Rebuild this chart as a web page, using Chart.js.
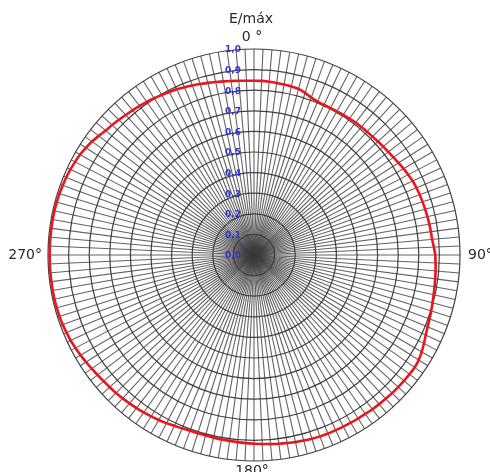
<!DOCTYPE html>
<html>
<head>
<meta charset="utf-8">
<script src="https://cdn.jsdelivr.net/npm/chart.js@4/dist/chart.umd.min.js"></script>
<style>
  html, body { margin: 0; padding: 0; background: #fff; overflow: hidden; }
  #wrap { width: 490px; height: 472px; position: relative; }
</style>
</head>
<body>
<div id="wrap"><canvas id="c" width="490" height="472"></canvas></div>
<script>
// Angles every 2.5 degrees (spokes of the polar grid)
const angles = [];
for (let a = 0; a < 360; a += 2.5) angles.push(a);

// Relative field strength E/Emax, one value per 2.5 degrees, starting at 0° going clockwise
const relativeField = [
  0.846, 0.846, 0.844, 0.842, 0.840, 0.838, 0.835, 0.825, 0.813, 0.806,   // 0 - 22.5
  0.804, 0.804, 0.805, 0.807, 0.808, 0.810, 0.811, 0.812, 0.813, 0.816,   // 25 - 47.5
  0.819, 0.822, 0.826, 0.832, 0.838, 0.844, 0.850, 0.853, 0.856, 0.858,   // 50 - 72.5
  0.860, 0.862, 0.864, 0.866, 0.868, 0.874, 0.880, 0.882, 0.885, 0.887,   // 75 - 97.5
  0.890, 0.893, 0.897, 0.902, 0.907, 0.912, 0.920, 0.930, 0.940, 0.948,   // 100 - 122.5
  0.952, 0.951, 0.950, 0.949, 0.948, 0.946, 0.945, 0.944, 0.942, 0.941,   // 125 - 147.5
  0.940, 0.939, 0.938, 0.938, 0.937, 0.935, 0.932, 0.930, 0.927, 0.924,   // 150 - 172.5
  0.921, 0.918, 0.916, 0.914, 0.912, 0.910, 0.909, 0.908, 0.907, 0.907,   // 175 - 197.5
  0.908, 0.911, 0.915, 0.920, 0.925, 0.929, 0.933, 0.937, 0.940, 0.944,   // 200 - 222.5
  0.947, 0.950, 0.953, 0.957, 0.962, 0.967, 0.972, 0.977, 0.982, 0.985,   // 225 - 247.5
  0.988, 0.990, 0.991, 0.992, 0.992, 0.992, 0.992, 0.992, 0.992, 0.992,   // 250 - 272.5
  0.992, 0.992, 0.992, 0.992, 0.991, 0.990, 0.988, 0.986, 0.983, 0.979,   // 275 - 297.5
  0.975, 0.968, 0.960, 0.950, 0.940, 0.934, 0.928, 0.922, 0.917, 0.912,   // 300 - 322.5
  0.907, 0.902, 0.897, 0.892, 0.888, 0.882, 0.876, 0.870, 0.865, 0.860,   // 325 - 347.5
  0.856, 0.852, 0.849, 0.847                                               // 350 - 357.5
];

// Radial tick labels (blue, on the 0° axis)
const tickValues = [0, 0.1, 0.2, 0.3, 0.4, 0.5, 0.6, 0.7, 0.8, 0.9, 1.0];
const tickLabels = ['0,0', '0,1', '0,2', '0,3', '0,4', '0,5', '0,6', '0,7', '0,8', '0,9', '1,0'];

// Cardinal direction labels
const cardinalAngles = [0, 90, 180, 270];
const cardinalLabels = ['0 °', '90°', '180°', '270°'];
const axisTitle = 'E/máx';

const textPlugin = {
  id: 'polarText',
  afterDraw(chart) {
    const s = chart.scales.r;
    const ctx = chart.ctx;
    ctx.save();
    // radial tick labels
    ctx.fillStyle = '#3434cc';
    ctx.font = 'bold 9px "DejaVu Sans"';
    ctx.textAlign = 'center';
    ctx.textBaseline = 'middle';
    tickValues.forEach((v, i) => {
      const d = s.getDistanceFromCenterForValue(v);
      ctx.fillText(tickLabels[i], s.xCenter - 21, s.yCenter - d + 1);
    });
    // cardinal labels
    ctx.fillStyle = '#2a2a2a';
    ctx.font = '14px "DejaVu Sans"';
    const R = s.drawingArea;
    cardinalAngles.forEach((a, i) => {
      const idx = angles.indexOf(a);
      let p;
      if (a === 0) {
        p = s.getPointPosition(idx, R + 12);
        ctx.textAlign = 'center'; ctx.textBaseline = 'middle';
        ctx.fillText(cardinalLabels[i], p.x - 2, p.y);
      } else if (a === 90) {
        p = s.getPointPosition(idx, R + 8);
        ctx.textAlign = 'left'; ctx.textBaseline = 'middle';
        ctx.fillText(cardinalLabels[i], p.x, p.y);
      } else if (a === 180) {
        p = s.getPointPosition(idx, R + 3);
        ctx.textAlign = 'center'; ctx.textBaseline = 'top';
        ctx.fillText(cardinalLabels[i], p.x - 2, p.y);
      } else {
        p = s.getPointPosition(idx, R + 6);
        ctx.textAlign = 'right'; ctx.textBaseline = 'middle';
        ctx.fillText(cardinalLabels[i], p.x, p.y);
      }
    });
    // title
    const t = s.getPointPosition(0, R + 30);
    ctx.textAlign = 'center'; ctx.textBaseline = 'middle';
    ctx.fillText(axisTitle, t.x - 3, t.y);
    ctx.restore();
  }
};

new Chart(document.getElementById('c'), {
  type: 'radar',
  data: {
    labels: angles.map(a => a + '°'),
    datasets: [{
      label: 'E/máx',
      data: relativeField,
      borderColor: '#e8161e',
      borderWidth: 2.6,
      fill: false,
      pointRadius: 0,
      pointHoverRadius: 0,
      tension: 0.15
    }]
  },
  options: {
    responsive: false,
    animation: false,
    events: [],
    layout: { padding: { left: 48, right: 30, top: 49, bottom: 11 } },
    plugins: { legend: { display: false }, tooltip: { enabled: false } },
    scales: {
      r: {
        min: 0,
        max: 1,
        startAngle: 0,
        ticks: { display: false, stepSize: 0.1 },
        pointLabels: { display: false },
        grid: { circular: true, color: 'rgba(45,45,45,0.9)', lineWidth: 1.2 },
        angleLines: { display: true, color: 'rgba(60,60,60,0.8)', lineWidth: 1.1 }
      }
    }
  },
  plugins: [textPlugin]
});
</script>
</body>
</html>
